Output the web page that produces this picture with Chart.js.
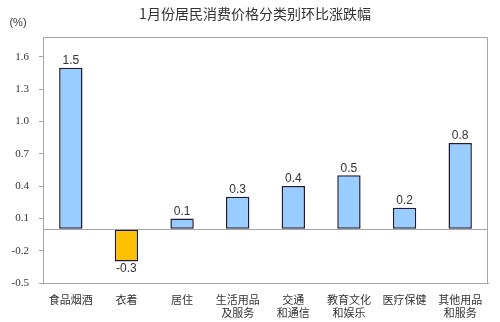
<!DOCTYPE html>
<html>
<head>
<meta charset="utf-8">
<script src="https://cdn.jsdelivr.net/npm/chart.js@4/dist/chart.umd.min.js"></script>
<style>
  html, body { margin: 0; padding: 0; background: #fff; }
  #wrap { width: 500px; height: 322px; }
</style>
</head>
<body>
<div id="wrap"><canvas id="cpiChart" width="500" height="322"></canvas></div>
<script>
const categories = [
    ["食品烟酒"], ["衣着"], ["居住"], ["生活用品", "及服务"],
    ["交通", "和通信"], ["教育文化", "和娱乐"], ["医疗保健"], ["其他用品", "和服务"]
];
const changes = [1.5, -0.3, 0.1, 0.3, 0.4, 0.5, 0.2, 0.8];
const yTicks = [-0.5, -0.2, 0.1, 0.4, 0.7, 1.0, 1.3, 1.6];
const titleText = "1月份居民消费价格分类别环比涨跌幅";
const unitText = "(%)";

const textColor = "#333333";
const frameColor = "#a6a6a6";

/* title, unit and frame around the plot */
const decorPlugin = {
    id: "decor",
    beforeDatasetsDraw(chart) {
        const { ctx, chartArea: a } = chart;
        ctx.save();
        ctx.strokeStyle = frameColor;
        ctx.lineWidth = 1;
        ctx.beginPath();
        ctx.moveTo(a.left, a.top + 0.5);
        ctx.lineTo(a.right - 0.5, a.top + 0.5);
        ctx.lineTo(a.right - 0.5, a.bottom);
        ctx.stroke();
        ctx.restore();
    },
    afterDraw(chart) {
        const { ctx } = chart;
        ctx.save();
        ctx.fillStyle = textColor;
        ctx.textBaseline = "middle";
        ctx.textAlign = "center";
        ctx.font = "14px 'Noto Sans CJK SC', sans-serif";
        ctx.fillText(titleText, 255, 14);
        ctx.font = "11px 'Liberation Sans', sans-serif";
        ctx.fillText(unitText, 18, 23);
        ctx.restore();
    }
};

/* value labels on the bars */
const valueLabels = {
    id: "valueLabels",
    afterDatasetsDraw(chart) {
        const { ctx } = chart;
        const meta = chart.getDatasetMeta(0);
        ctx.save();
        ctx.fillStyle = textColor;
        ctx.font = "12px 'Liberation Sans', Arial, sans-serif";
        ctx.textAlign = "center";
        meta.data.forEach((bar, i) => {
            const v = changes[i];
            if (v >= 0) {
                ctx.textBaseline = "bottom";
                ctx.fillText(v.toFixed(1), bar.x, bar.y - 1);
            } else {
                ctx.textBaseline = "top";
                ctx.fillText(v.toFixed(1), bar.x, bar.y + 1);
            }
        });
        ctx.restore();
    }
};

const ctx = document.getElementById("cpiChart").getContext("2d");
new Chart(ctx, {
    type: "bar",
    data: {
        labels: categories,
        datasets: [{
            data: changes,
            backgroundColor: changes.map(v => v < 0 ? "#ffc000" : "#99ccff"),
            borderColor: "#1c1c38",
            borderWidth: 1.5,
            borderSkipped: false,
            categoryPercentage: 1,
            barPercentage: 0.42
        }]
    },
    options: {
        responsive: false,
        animation: false,
        layout: { padding: { top: 37, right: 12, left: 0, bottom: 0 } },
        plugins: {
            legend: { display: false },
            tooltip: { enabled: false }
        },
        scales: {
            x: {
                grid: { display: false, drawTicks: false },
                border: { color: frameColor, width: 1 },
                ticks: {
                    color: textColor,
                    font: { family: "'Noto Sans CJK SC', sans-serif", size: 11, lineHeight: 1.2 },
                    padding: 10,
                    maxRotation: 0,
                    autoSkip: false
                },
                afterFit(scale) { scale.height = 39; }
            },
            y: {
                min: -0.5,
                max: 1.785,
                afterBuildTicks(scale) {
                    scale.ticks = yTicks.concat([0]).map(v => ({ value: v }));
                },
                grid: {
                    color: c => c.tick && c.tick.value === 0 ? frameColor : "rgba(0,0,0,0)",
                    tickColor: c => c.tick && c.tick.value === 0 ? "rgba(0,0,0,0)" : frameColor,
                    tickLength: 4,
                    lineWidth: 1
                },
                border: { color: frameColor, width: 1 },
                ticks: {
                    color: textColor,
                    font: { family: "'Liberation Serif', serif", size: 11 },
                    padding: 10,
                    callback: v => v === 0 ? "" : v.toFixed(1)
                },
                afterFit(scale) { scale.width = 43; }
            }
        }
    },
    plugins: [decorPlugin, valueLabels]
});
</script>
</body>
</html>
